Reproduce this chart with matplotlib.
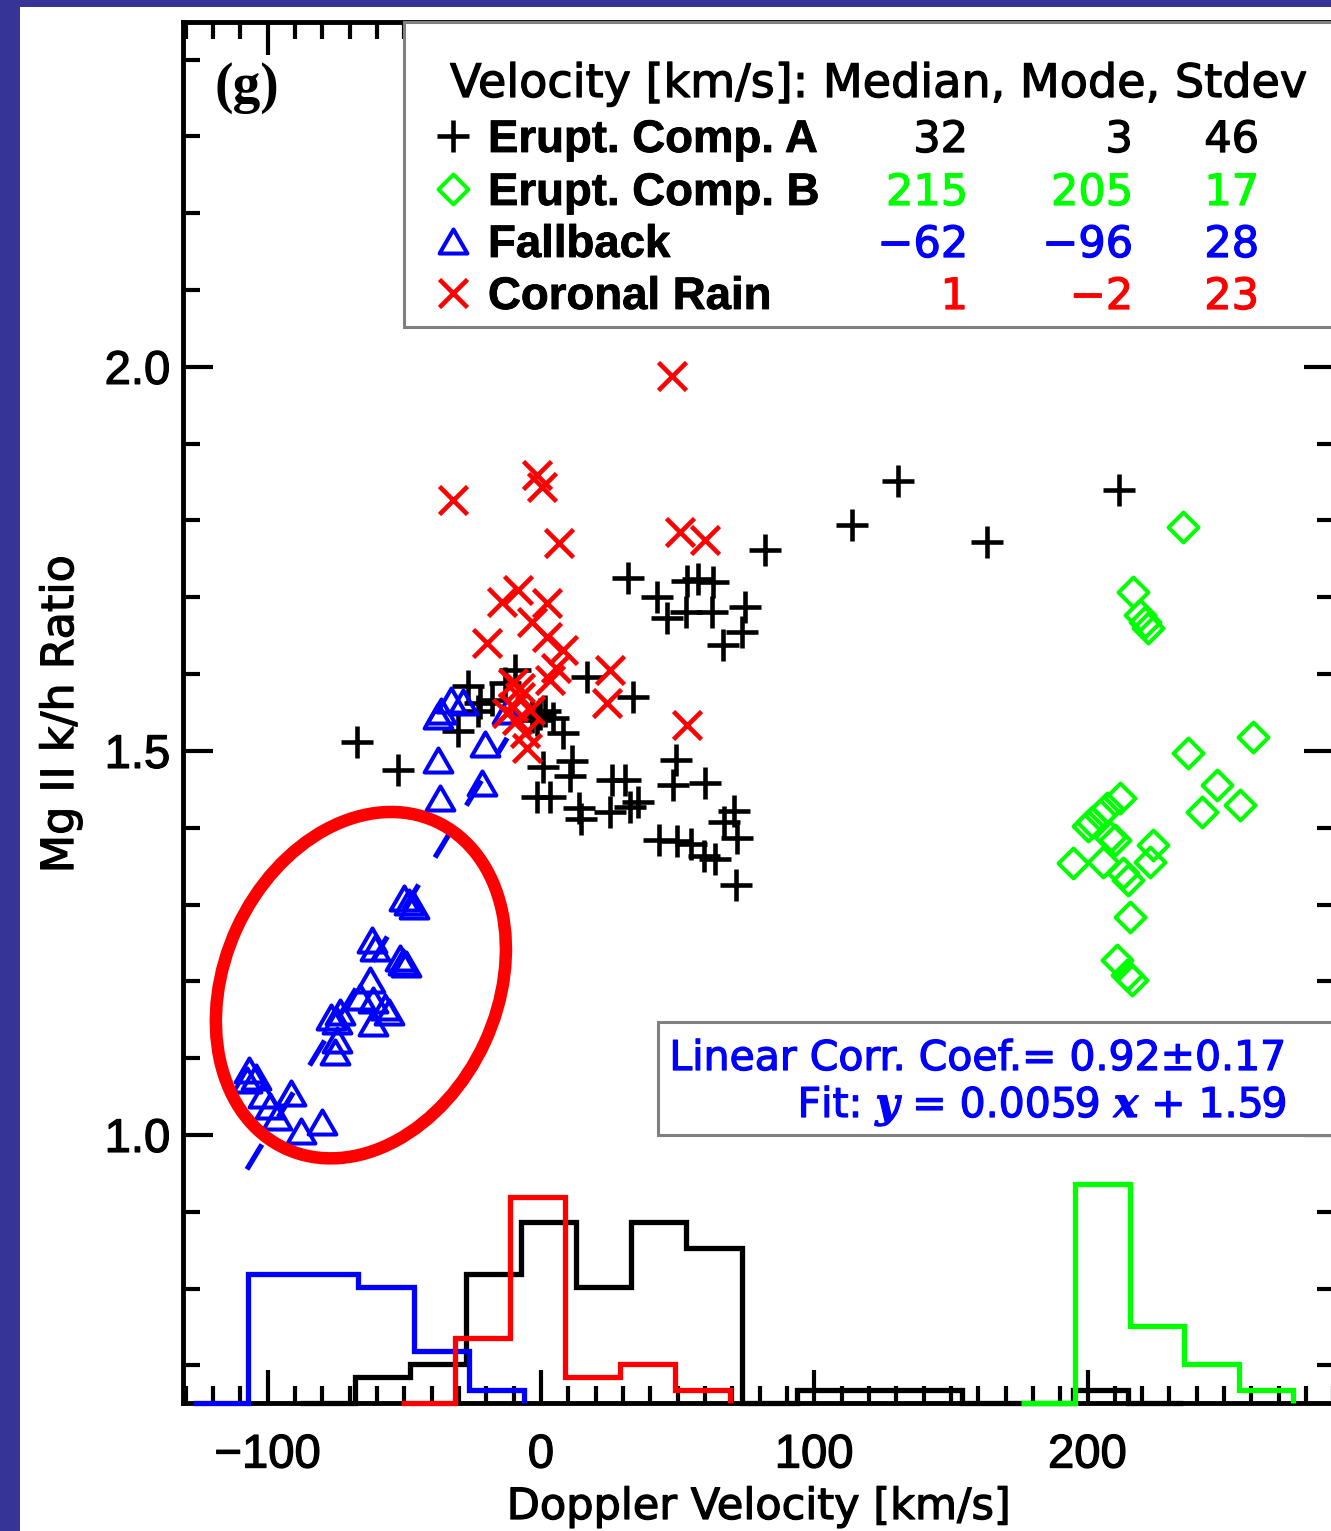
import numpy as np
import matplotlib
matplotlib.use("Agg")
import matplotlib.pyplot as plt
import matplotlib.patheffects as pe
from matplotlib.lines import Line2D
from matplotlib.patches import Ellipse, Rectangle
from matplotlib.path import Path
from matplotlib.ticker import MultipleLocator, FormatStrFormatter
from matplotlib.transforms import ScaledTranslation

plt.rcParams['font.family'] = ['Liberation Sans', 'DejaVu Sans']
plt.rcParams['mathtext.fontset'] = 'custom'
plt.rcParams['mathtext.it'] = 'DejaVu Serif:italic:bold'
plt.rcParams['mathtext.rm'] = 'DejaVu Sans'

# --- Doppler velocity [km/s] and Mg II k/h ratio per component ---
comp_a_v = [-67.3, -52.3, -30.4, -26.7, -23.1, -22.3, -17.9, -13.2, -9.5, -3.3,
            -0.4, -1.5, 1.5, 4.4, 8.0, 16.8, 33.7, 0.7, 11.3, 10.6,
            -1.5, 3.3, 13.9, 14.6, 26.0, 30.7, 25.2, 32.6, 35.5, 49.4,
            48.3, 60.0, 43.2, 49.8, 54.9, 59.6, 63.7, 67.0, 70.6, 71.7,
            71.3, 66.6, 31.8, 42.4, 46.1, 53.4, 57.4, 62.9, 53.1, 62.6,
            74.6, 73.5, 82.0, 113.8, 130.6, 163.2, 211.5]
comp_a_r = [1.512, 1.475, 1.526, 1.585, 1.552, 1.562, 1.566, 1.589, 1.605, 1.544,
            1.548, 1.540, 1.552, 1.543, 1.523, 1.596, 1.570, 1.479, 1.487, 1.467,
            1.440, 1.440, 1.426, 1.411, 1.462, 1.462, 1.421, 1.427, 1.434, 1.488,
            1.456, 1.458, 1.384, 1.383, 1.379, 1.363, 1.359, 1.408, 1.422, 1.387,
            1.326, 1.638, 1.725, 1.700, 1.673, 1.721, 1.724, 1.720, 1.681, 1.681,
            1.687, 1.655, 1.762, 1.794, 1.852, 1.772, 1.840]

comp_b_v = [234.9, 216.6, 219.2, 221.0, 222.1, 236.7, 260.5, 247.3, 255.8, 241.9,
            211.9, 207.1, 204.5, 201.6, 200.1, 208.2, 210.0, 223.9, 222.8, 194.7,
            205.6, 212.9, 214.8, 215.5, 210.8, 214.4, 216.2]
comp_b_r = [1.792, 1.707, 1.677, 1.668, 1.660, 1.497, 1.518, 1.456, 1.430, 1.421,
            1.439, 1.426, 1.417, 1.408, 1.402, 1.388, 1.384, 1.378, 1.355, 1.354,
            1.355, 1.341, 1.332, 1.284, 1.228, 1.208, 1.202]

fallback_v = [-37.7, -36.6, -32.9, -28.5, -12.4, -20.5, -37.7, -21.6, -37.0,
              -50.1, -48.3, -46.5, -61.8, -60.7, -51.6, -50.5, -49.4, -62.6,
              -66.2, -61.5, -57.1, -55.6, -73.5, -76.8, -74.6, -61.5, -74.6, -75.4,
              -106.8, -104.3, -107.6, -101.7, -91.5, -99.2, -96.6, -87.8, -80.1]
fallback_r = [1.546, 1.552, 1.566, 1.564, 1.552, 1.509, 1.488, 1.458, 1.439,
              1.309, 1.303, 1.298, 1.254, 1.243, 1.230, 1.225, 1.223, 1.202,
              1.180, 1.176, 1.167, 1.160, 1.160, 1.154, 1.148, 1.146, 1.124, 1.108,
              1.085, 1.076, 1.072, 1.052, 1.055, 1.038, 1.023, 1.005, 1.017]

rain_v = [47.9, -32.2, -1.5, 0.4, 6.6, 50.9, 60.0, -14.3, -8.4, 2.2,
          -3.3, -19.8, 2.2, 8.0, 5.5, 3.3, 25.2, 24.1, 53.4, -10.2,
          -7.7, -12.4, -8.8, -5.9, -5.1, -10.2, -7.7, -4.0]
rain_r = [1.988, 1.827, 1.859, 1.844, 1.771, 1.785, 1.775, 1.694, 1.710, 1.693,
          1.668, 1.641, 1.648, 1.631, 1.608, 1.592, 1.605, 1.562, 1.534, 1.589,
          1.570, 1.549, 1.540, 1.523, 1.504, 1.557, 1.582, 1.553]

# velocity histograms (bin edges in km/s, counts per bin)
hist_a_edges = [-88.2, -68.0, -47.8, -27.6, -7.4, 12.8, 33.0, 53.2, 73.4, 93.6,
                113.8, 134.0, 154.2, 174.4, 194.6, 214.8, 235.0]
hist_a_counts = [0, 2, 3, 10, 14, 9, 14, 12, 0, 1, 1, 1, 0, 0, 1, 0]
hist_b_edges = [175.6, 195.5, 215.5, 235.4, 255.3, 275.2]
hist_b_counts = [0, 17, 6, 3, 1]
hist_fb_edges = [-127.4, -107.2, -87.0, -66.8, -46.6, -26.4, -6.2]
hist_fb_counts = [0, 10, 10, 9, 4, 1]
hist_rain_edges = [-51.4, -31.3, -11.2, 8.9, 29.0, 49.1, 69.2]
hist_rain_counts = [0, 5, 16, 2, 3, 1]

# legend statistics: median, mode, stdev
labels = ["Erupt. Comp. A", "Erupt. Comp. B", "Fallback", "Coronal Rain"]
stat_median = [32, 215, -62, 1]
stat_mode = [3, 205, -96, -2]
stat_stdev = [46, 17, 28, 23]

# fallback linear fit
corr_coef, corr_err = 0.92, 0.17
fit_slope, fit_intercept = 0.0059, 1.59

GREEN = '#00ff00'
BLUE = '#0000ff'
RED = '#ff0000'
colors = ['black', GREEN, BLUE, RED]

W, H = 1331, 1531

# slightly thicker strokes for the plain text
heavy = [pe.withStroke(linewidth=0.9)]
heavy_bold = [pe.withStroke(linewidth=0.6)]


def fx(px):
    return px / W


def fy(py):
    return 1 - py / H


tri = Path([(-0.5, -0.433), (0.5, -0.433), (0, 0.433), (-0.5, -0.433)],
           [Path.MOVETO, Path.LINETO, Path.LINETO, Path.CLOSEPOLY])
dia = Path([(0, 1), (1, 0), (0, -1), (-1, 0), (0, 1)],
           [Path.MOVETO, Path.LINETO, Path.LINETO, Path.LINETO, Path.CLOSEPOLY])
marker_style = [dict(marker='+', ms=23, mew=3.3),
                dict(marker=dia, ms=21.5, mew=2.9),
                dict(marker=tri, ms=20, mew=2.9),
                dict(marker='x', ms=20, mew=3.3)]

fig = plt.figure(figsize=(W / 100, H / 100), dpi=100, facecolor='#363496')
fig.add_artist(Rectangle((fx(20), 0), 1, 1 - 7 / H, transform=fig.transFigure,
                         facecolor='white', edgecolor='none', zorder=-10))

ax = fig.add_axes([fx(183), fy(1403), (1334 - 183) / W, (1403 - 22) / H])
ax.set_xlim(-131, 290.2)
ax.set_ylim(0.651, 2.449)

# scatter of the four populations
series = [(comp_a_v, comp_a_r), (comp_b_v, comp_b_r),
          (fallback_v, fallback_r), (rain_v, rain_r)]
for i in [2, 0, 1, 3]:
    v, r = series[i]
    ax.plot(v, r, ls='none', mfc='none', mec=colors[i], zorder=2 + 0.1 * i,
            **marker_style[i])

# dashed fit through the fallback points
xs = np.array([min(fallback_v), max(fallback_v)])
ax.plot(xs, fit_slope * xs + fit_intercept, color=BLUE, lw=3.8,
        ls=(0, (5.5, 6)), zorder=2.05)

# histograms along the bottom
base = 0.651
count_scale = 0.0168
hists = [(hist_a_edges, hist_a_counts), (hist_b_edges, hist_b_counts),
         (hist_fb_edges, hist_fb_counts), (hist_rain_edges, hist_rain_counts)]
for i, (edges, counts) in enumerate(hists):
    ax.stairs(base + count_scale * np.array(counts), edges, baseline=base,
              color=colors[i], lw=3.8, clip_on=False, zorder=3)

# axes styling
for sp in ax.spines.values():
    sp.set_linewidth(3.5)
ax.xaxis.set_major_locator(MultipleLocator(100))
ax.xaxis.set_minor_locator(MultipleLocator(10))
ax.yaxis.set_major_locator(MultipleLocator(0.5))
ax.yaxis.set_minor_locator(MultipleLocator(0.1))
ax.yaxis.set_major_formatter(FormatStrFormatter('%.1f'))
ax.tick_params(which='both', direction='in', top=True, right=True, width=3)
ax.tick_params(axis='x', which='major', length=24, pad=22, labelsize=34)
ax.tick_params(axis='x', which='minor', length=12)
ax.tick_params(axis='y', which='major', length=21.5, pad=9, labelsize=34)
ax.tick_params(axis='y', which='minor', length=12)

ax.set_xlabel("Doppler Velocity [km/s]", family='DejaVu Sans', size=31,
              path_effects=heavy)
ax.xaxis.set_label_coords(0.4996, -0.0601)
ax.set_ylabel("Mg II k/h Ratio", family='DejaVu Sans', size=32,
              path_effects=heavy)
ax.yaxis.set_label_coords(-0.0877, 0.4989)

fig.text(fx(215), fy(102), "(g)", family='Liberation Serif', weight='bold',
         size=40, ha='left', va='baseline')

# statistics legend
fig.add_artist(Rectangle((fx(404), fy(327)), 1, (327 - 22) / H,
                         transform=fig.transFigure, facecolor='white',
                         edgecolor='#808080', lw=2.2, zorder=1))
fig.text(fx(450), fy(97), "Velocity [km/s]: Median, Mode, Stdev",
         family='DejaVu Sans', size=33.2, ha='left', va='baseline', zorder=4,
         path_effects=heavy)
row_base = [152, 205, 257, 309]


def fmt(n):
    return str(n).replace('-', '\u2212')


for i, lab in enumerate(labels):
    yb = row_base[i]
    fig.add_artist(Line2D([fx(453)], [fy(yb - 16)], transform=fig.transFigure,
                          ls='none', mfc='none', mec=colors[i], zorder=4,
                          **marker_style[i]))
    fig.text(fx(488), fy(yb), lab, family='Liberation Sans', weight='bold',
             size=32.8, ha='left', va='baseline', zorder=4,
             path_effects=heavy_bold)
    for xr, val in zip([968, 1133, 1259],
                       [stat_median[i], stat_mode[i], stat_stdev[i]]):
        fig.text(fx(xr), fy(yb), fmt(val), family='DejaVu Sans', size=31,
                 color=colors[i], ha='right', va='baseline', zorder=4,
                 path_effects=heavy)

# fit annotation box
fig.add_artist(Rectangle((fx(658), fy(1135)), 1, (1135 - 1022) / H,
                         transform=fig.transFigure, facecolor='white',
                         edgecolor='#808080', lw=2.2, zorder=1))
fig.text(fx(1287), fy(1070),
         f"Linear Corr. Coef.= {corr_coef:.2f}\u00b1{corr_err:.2f}",
         family='DejaVu Sans', size=29.5, color=BLUE, ha='right', va='baseline',
         zorder=4, path_effects=heavy)
fig.text(fx(1287), fy(1117),
         f"Fit: $y$ = {fit_slope:.4f} $x$ + {fit_intercept:.2f}",
         family='DejaVu Sans', size=29.5, color=BLUE, ha='right', va='baseline',
         zorder=4, path_effects=heavy)

# highlight around the lower fallback branch
ring = Ellipse((0, 0), 2.73, 3.60, angle=-24.7, fill=False, ec=RED, lw=9,
               transform=fig.dpi_scale_trans + ScaledTranslation(-65.9, 1.195, ax.transData),
               zorder=5)
ax.add_artist(ring)

fig.canvas.draw()
for lab in ax.get_xticklabels() + ax.get_yticklabels():
    lab.set_path_effects(heavy)

fig.savefig("out.png", dpi=100, facecolor=fig.get_facecolor())
